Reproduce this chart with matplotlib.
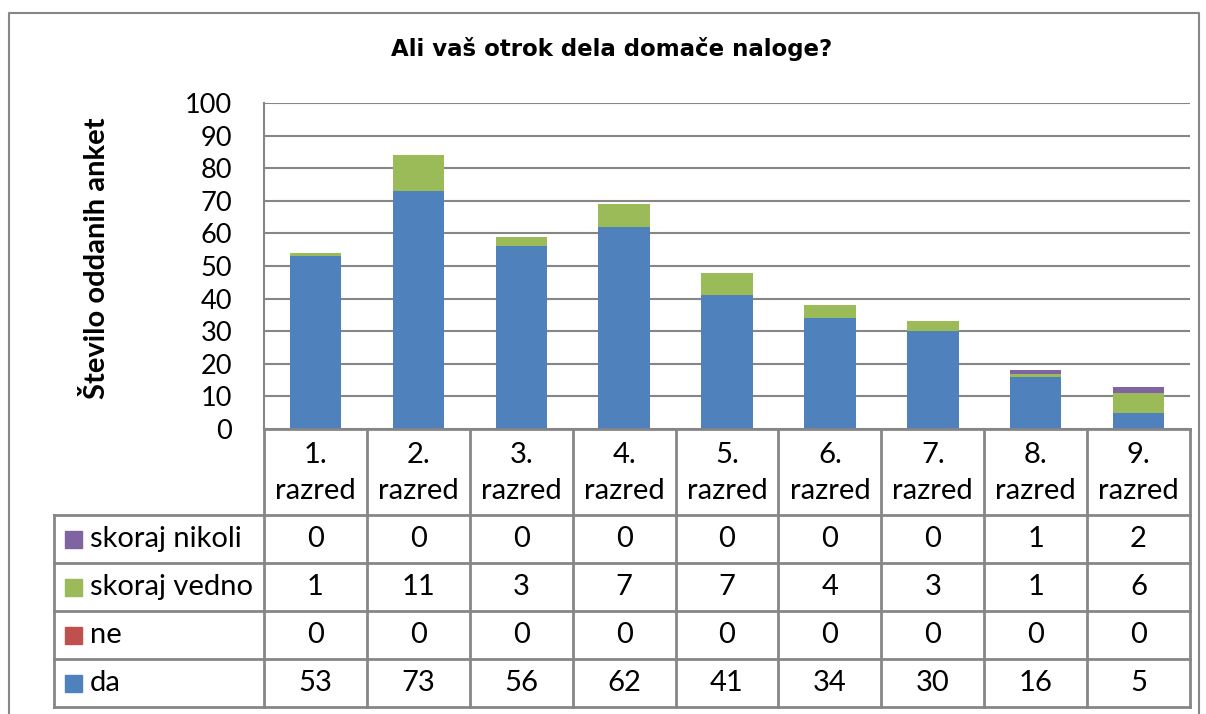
import matplotlib
matplotlib.use("Agg")
import matplotlib.pyplot as plt
import matplotlib.transforms as mtransforms
from matplotlib.patches import Rectangle

plt.rcParams['font.family'] = ['Lato', 'DejaVu Sans']

# data
categories = ['1.\nrazred', '2.\nrazred', '3.\nrazred', '4.\nrazred', '5.\nrazred',
              '6.\nrazred', '7.\nrazred', '8.\nrazred', '9.\nrazred']
da = [53, 73, 56, 62, 41, 34, 30, 16, 5]
ne = [0, 0, 0, 0, 0, 0, 0, 0, 0]
skoraj_vedno = [1, 11, 3, 7, 7, 4, 3, 1, 6]
skoraj_nikoli = [0, 0, 0, 0, 0, 0, 0, 1, 2]

series = [('da', da, '#4F81BD'), ('ne', ne, '#C0504D'),
          ('skoraj vedno', skoraj_vedno, '#9BBB59'), ('skoraj nikoli', skoraj_nikoli, '#8064A2')]

W, H = 1206, 714
fig = plt.figure(figsize=(W / 100, H / 100), dpi=100)
grid_col = '#868686'
fs = 21

# plot area in pixels
pl, pr, pt, pb = 264, 1190, 103, 429
ax = fig.add_axes([pl / W, 1 - pb / H, (pr - pl) / W, (pb - pt) / H])
x = list(range(len(categories)))
bottom = [0] * len(categories)
for name, vals, col in series:
    ax.bar(x, vals, width=0.5, bottom=bottom, color=col, zorder=3)
    bottom = [b + v for b, v in zip(bottom, vals)]
ax.set_xlim(-0.5, len(categories) - 0.5)
ax.set_ylim(0, 100)
ax.set_yticks(range(0, 101, 10))
ax.yaxis.grid(True, color=grid_col, lw=1.5, zorder=0)
ax.set_xticks([])
ax.tick_params(axis='y', length=0, labelsize=19.5, pad=23)
for s in ['top', 'right', 'bottom']:
    ax.spines[s].set_visible(False)
ax.spines['left'].set_color(grid_col)
ax.spines['left'].set_linewidth(1.5)

# overlay in pixel coords for the data table
ov = fig.add_axes([0, 0, 1, 1], zorder=5)
ov.set_xlim(0, W)
ov.set_ylim(H, 0)
ov.axis('off')
ov.patch.set_alpha(0)
tr = mtransforms.blended_transform_factory(ax.transData, ov.transData)

# outer chart border
ov.plot([9, 9, 1199, 1199], [716, 13, 13, 716], color=grid_col, lw=1.5)

ov.text(612, 49, 'Ali vaš otrok dela domače naloge?', ha='center', va='center',
        fontsize=16.5, fontweight='bold', family='DejaVu Sans')
ov.text(97, 258, 'Število oddanih anket', ha='center', va='center', rotation=90,
        fontsize=fs, fontweight='bold')

cat_top, rows_top, row_h, tab_left = 429, 515, 48, 54
n_rows = len(series)
tab_bottom = rows_top + n_rows * row_h
lw = 2
# horizontal lines
ov.plot([pl, pr], [cat_top, cat_top], color=grid_col, lw=lw)
for r in range(n_rows + 1):
    y = rows_top + r * row_h
    ov.plot([tab_left, pr], [y, y], color=grid_col, lw=lw)
# vertical lines
for i in range(len(categories) + 1):
    ov.plot([i - 0.5, i - 0.5], [cat_top, tab_bottom], color=grid_col, lw=lw, transform=tr)
ov.plot([tab_left, tab_left], [rows_top, tab_bottom], color=grid_col, lw=lw)

# category labels
for i, c in enumerate(categories):
    ov.text(i, (cat_top + rows_top) / 2 + 1, c, ha='center', va='center', fontsize=fs,
            linespacing=1.45, transform=tr)

# rows (top: skoraj nikoli ... bottom: da)
for r, (name, vals, col) in enumerate(reversed(series)):
    yc = rows_top + r * row_h + row_h / 2
    ov.add_patch(Rectangle((65, yc - 8.5), 17, 17, color=col))
    ov.text(90, yc, name, ha='left', va='center', fontsize=fs)
    for i, v in enumerate(vals):
        ov.text(i, yc, str(v), ha='center', va='center', fontsize=fs, transform=tr)

fig.savefig('out.png', dpi=100)
